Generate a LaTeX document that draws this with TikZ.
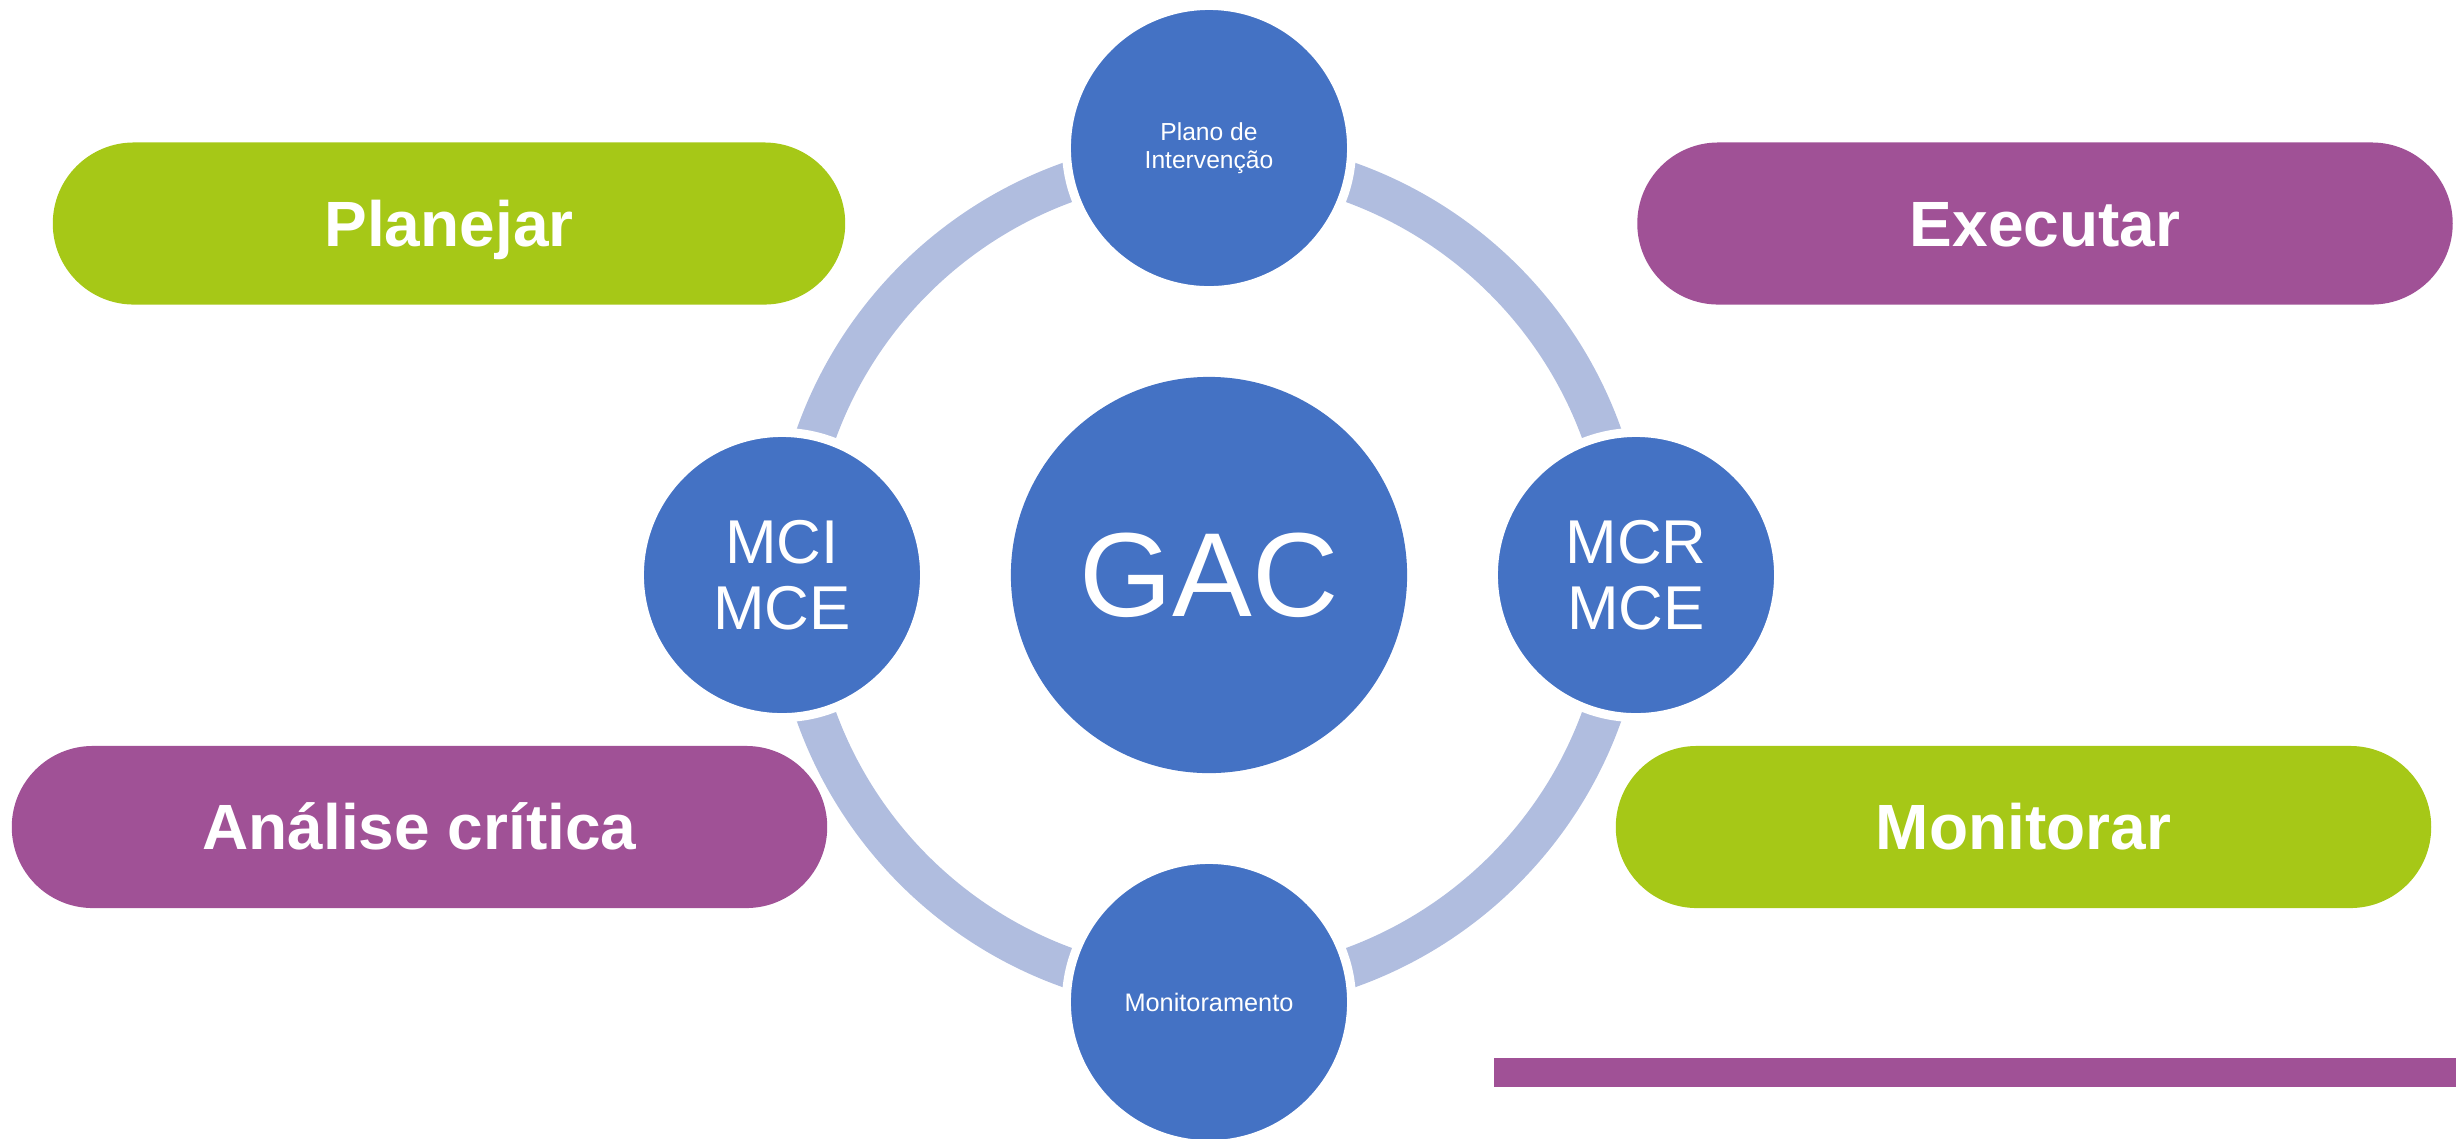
\documentclass[tikz,border=0pt]{standalone}
\usepackage{fontspec}
\setmainfont{Liberation Sans}

\definecolor{gacblue}{RGB}{68,114,196}
\definecolor{ringblue}{RGB}{176,189,223}
\definecolor{pillgreen}{RGB}{166,200,23}
\definecolor{pillpurple}{RGB}{160,81,150}

\begin{document}
\begin{tikzpicture}
                                [
                                    x=0.01cm, y=-0.01cm,
                                    hub/.style = {shape=circle, fill=gacblue, text=white, inner sep=0pt, minimum size=3.96cm, font=\fontsize{34pt}{40pt}\selectfont},
                                    sat/.style = {shape=circle, fill=gacblue, draw=white, line width=0.09cm, text=white, inner sep=0pt, minimum size=2.85cm, align=center},
                                    pill/.style = {shape=rectangle, rounded corners=0.81cm, minimum width=8.15cm, minimum height=1.62cm, text=white, text height=13pt, text depth=0pt, font=\fontsize{18.2pt}{22pt}\selectfont\bfseries},
                                ]

                                \useasboundingbox (0,0) rectangle (2456,1138);

                                \node[hub] (gac) at (1209,575)     {GAC};
                                \draw[ringblue, line width=0.4cm] (gac.center) circle (4.17cm);

                                \node[sat, font=\fontsize{7pt}{8pt}\selectfont] (plano) at (1209,148)     {Plano de\\Intervenção};
                                \node[sat, font=\fontsize{17.6pt}{18.8pt}\selectfont] (mci) at (782,575)     {MCI\\MCE};
                                \node[sat, font=\fontsize{17.6pt}{18.8pt}\selectfont] (mcr) at (1636,575)     {MCR\\MCE};
                                \node[sat, font=\fontsize{7.2pt}{8pt}\selectfont] (monit) at (1209,1002)     {Monitoramento};

                                \node[pill, fill=pillgreen, minimum width=7.92cm] (planejar) at (449,223.5)     {Planejar};
                                \node[pill, fill=pillpurple] (executar) at (2045,223.5)     {Executar};
                                \node[pill, fill=pillpurple] (analise) at (419.5,827)     {Análise crítica};
                                \node[pill, fill=pillgreen] (monitorar) at (2023.5,827)     {Monitorar};

                                \fill[pillpurple] (1494,1058) rectangle (2456,1087);

                            \end{tikzpicture}
\end{document}
